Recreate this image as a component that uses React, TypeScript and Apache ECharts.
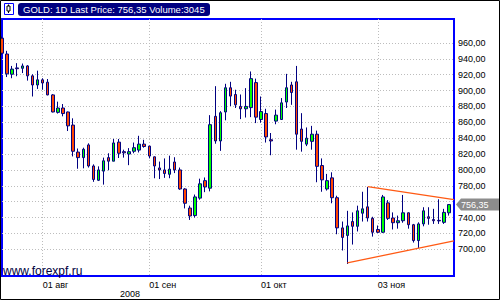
import React, { useEffect, useRef } from 'react';
import * as echarts from 'echarts';

// ---- data ----
const opens = [966, 946, 920.5, 928.5, 928, 931, 918.5, 907, 913.5, 910.5, 894.5, 872.5, 878, 873, 856.5, 822.5, 815.5, 831.5, 805, 787,
  798.5, 815.5, 811, 835, 823, 820, 823.5, 825, 832.5, 830, 816.5, 802.5, 800, 794.5, 810, 800, 776, 752, 742.5, 764.5,
  786.5, 777, 867.5, 836.5, 873, 903.5, 895, 880, 877, 878.5, 910, 863.5, 871, 838, 861.5, 863.5, 885.5, 907, 911, 851.5,
  832.5, 836, 845, 805.5, 776, 790, 765, 727, 717.5, 735, 729, 745.5, 753.5, 739, 725, 721.5, 758.5, 739.5, 733.5, 736,
  746, 731, 711, 732, 741, 737.5, 736.5, 734, 746];
const closes = [947, 921, 927, 927.5, 931, 918.5, 907, 913.5, 909.5, 894.5, 873, 878, 871, 855.5, 823.5, 815.5, 826, 805, 788, 800,
  811.5, 811, 834, 821, 821.5, 823, 828, 832.5, 829.5, 817.5, 805, 800, 795.5, 801, 800, 776, 758, 742, 766, 782.5,
  778.5, 857, 836.5, 872, 903.5, 893, 882, 877, 880, 915, 866.5, 873.5, 841.5, 836.5, 869, 884.5, 903.5, 897.5, 845, 836,
  840, 845, 804.5, 787.5, 786.5, 765, 727, 715, 729.5, 729, 748.5, 751, 739.5, 721.5, 721.5, 766, 739, 733.5, 736, 746,
  731, 711, 732, 748.5, 739, 736, 735.8, 746.5, 756.35];
const highs = [968, 950, 931, 934.5, 934, 932, 920.5, 925, 915.5, 914.5, 895.5, 886, 883, 873.5, 865, 827, 828, 833.5, 807, 804.5,
  815.5, 821, 839, 839, 825.5, 827.5, 834.5, 843, 838, 830.5, 817, 810.5, 814.5, 818, 816, 803, 777, 755, 769, 789,
  790.5, 869, 905.5, 874, 908.5, 911, 901, 895, 903, 924, 915, 892.5, 877, 846.5, 876, 890.5, 921, 911, 931, 871.5,
  853.5, 855.5, 849.5, 814.5, 795, 797, 767.5, 735, 748.5, 746.5, 755, 772.5, 778.5, 741, 730, 768.5, 762, 746.5, 742.5, 768.5,
  746.5, 732, 734, 753, 753, 751, 763, 751, 757];
const lows = [945, 917, 915.5, 918, 922, 912.5, 892.5, 902, 901, 894, 872.5, 871, 867.5, 849, 817, 801.5, 802, 803, 785, 786,
  781.5, 799.5, 811, 815, 815.5, 806, 821, 822, 828, 814.5, 789.5, 788.5, 790, 789.5, 796, 775, 751.5, 737, 740, 762.5,
  772, 773, 833, 824, 862.5, 880.5, 878, 864, 866, 866.5, 859, 859.5, 834.5, 818.5, 857.5, 863, 878, 882, 825.5, 823,
  830, 825.5, 784.5, 772.5, 774, 758, 719, 698.5, 681.5, 706, 722.5, 735, 735, 716, 720.5, 720.5, 737, 725, 726, 733.5,
  726, 708.5, 701.5, 729, 731, 732, 732, 732, 742.5];

const lastPrice = 756.35;
const volume = 3045;
const monthTickDates = ['2008-08-01', '2008-09-01', '2008-10-01', '2008-11-03'];
const monthTickLabels = ['01 авг', '01 сен', '01 окт', '03 ноя'];
const yearLabel = '2008';
const triangleUpper: [string, number][] = [['2008-10-30', 779], ['2008-11-24', 762.5]];
const triangleLower: [string, number][] = [['2008-10-24', 683], ['2008-11-24', 710.7]];

// trading days (weekdays) from 22 Jul 2008; the last slot is empty
function tradingDays(start: string, count: number): string[] {
  const out: string[] = [];
  const d = new Date(start + 'T00:00:00Z');
  while (out.length < count) {
    const wd = d.getUTCDay();
    if (wd !== 0 && wd !== 6) out.push(d.toISOString().slice(0, 10));
    d.setUTCDate(d.getUTCDate() + 1);
  }
  return out;
}
const dates = tradingDays('2008-07-22', opens.length + 1);

const FONT = 'Liberation Sans, Arial, sans-serif';

export default function App() {
  const ref = useRef<HTMLDivElement>(null);
  useEffect(() => {
    if (!ref.current) return;
    const chart = echarts.init(ref.current, null, { renderer: 'svg' });
    const candles = opens.map((o, i) => [o, closes[i], lows[i], highs[i]]);
    const tickIdx = new Set(monthTickDates.map((d) => dates.indexOf(d)));
    const fmtPrice = (v: number) => v.toFixed(2).replace('.', ',');

    chart.setOption({
      animation: false,
      backgroundColor: '#ffffff',
      grid: [
        { left: 2, top: 19, width: 452, height: 257, show: true, borderColor: '#0000ff', borderWidth: 2, backgroundColor: 'transparent' },
        { left: 2, top: 42.9, width: 452, height: 206.4, show: false },
      ],
      xAxis: [
        {
          type: 'category', gridIndex: 0, data: dates, boundaryGap: false,
          axisLine: { show: false }, axisTick: { show: false },
          axisLabel: {
            interval: (idx: number) => tickIdx.has(idx),
            formatter: (v: string) => monthTickLabels[monthTickDates.indexOf(v)] ?? '',
            align: 'left', margin: 4, color: '#000', fontFamily: FONT, fontSize: 9,
          },
          splitLine: { show: true, interval: (idx: number) => tickIdx.has(idx), lineStyle: { color: '#bdbdbd', type: [1, 2], width: 1 } },
        },
        { type: 'value', gridIndex: 1, min: 0, max: 1, show: false },
      ],
      yAxis: [
        { type: 'value', gridIndex: 0, min: 666.4, max: 990.1, show: false, splitLine: { show: false } },
        {
          type: 'value', gridIndex: 1, min: 700, max: 960, interval: 20, position: 'right',
          axisLine: { show: false }, axisTick: { show: false },
          // the last-price marker covers the tick label next to it
          axisLabel: { formatter: (v: number) => (Math.abs(v - lastPrice) < 10 ? '' : fmtPrice(v)), margin: 4, color: '#000', fontFamily: FONT, fontSize: 9 },
          splitLine: { show: true, lineStyle: { color: '#bdbdbd', type: [1, 2], width: 1 } },
        },
      ],
      series: [
        {
          type: 'candlestick', xAxisIndex: 0, yAxisIndex: 0, data: candles, barWidth: 3, clip: true,
          itemStyle: { color: '#00ff00', color0: '#ff4500', borderColor: '#000080', borderColor0: '#000080', borderColorDoji: '#000080', borderWidth: 1 },
          markLine: {
            silent: true, symbol: ['none', 'none'], label: { show: false },
            lineStyle: { color: '#ff5a14', width: 1.3, type: 'solid' },
            emphasis: { disabled: true },
            data: [
              [{ coord: triangleUpper[0] }, { coord: triangleUpper[1] }],
              [{ coord: triangleLower[0] }, { coord: triangleLower[1] }],
            ],
          },
        },
      ],
      graphic: [
        { id: 'frame', type: 'rect', shape: { x: 0.5, y: 0.5, width: 499, height: 299 }, style: { fill: 'none', stroke: '#000', lineWidth: 1 }, z: 100 },
        { id: 'icon', type: 'rect', shape: { x: 4.5, y: 3.5, width: 9, height: 11 }, style: { fill: '#fff', stroke: '#0000ff', lineWidth: 1 }, z: 100 },
        { id: 'icon2', type: 'rect', shape: { x: 7, y: 6, width: 3, height: 5 }, style: { fill: '#fff', stroke: '#000', lineWidth: 1 }, z: 101 },
        { id: 'icon3', type: 'line', shape: { x1: 8.5, y1: 4.5, x2: 8.5, y2: 13 }, style: { stroke: '#000', lineWidth: 1 }, z: 100 },
        { id: 'hdrbg', type: 'rect', shape: { x: 18, y: 3, width: 192, height: 13, r: 3 }, style: { fill: '#000080' }, z: 100 },
        {
          id: 'hdrtxt', type: 'text', x: 23, y: 9.8, z: 101,
          style: { text: `GOLD: 1D Last Price: ${fmtPrice(lastPrice)} Volume:${volume}`, fill: '#fff', font: `9.5px ${FONT}`, textVerticalAlign: 'middle' },
        },
        { id: 'site', type: 'text', x: 3, y: 270.5, z: 100, style: { text: 'www.forexpf.ru', fill: '#000040', font: `12px ${FONT}`, textVerticalAlign: 'middle' } },
        { id: 'year', type: 'text', x: 120, y: 294, z: 100, style: { text: yearLabel, fill: '#000', font: `9px ${FONT}`, textVerticalAlign: 'middle' } },
      ],
    });

    const py = chart.convertToPixel({ yAxisIndex: 0 }, lastPrice) as number;
    chart.setOption({
      graphic: [
        {
          id: 'pmark', type: 'polygon', z: 100,
          shape: { points: [[456, py], [461, py - 6], [499, py - 6], [499, py + 6], [461, py + 6]] },
          style: { fill: '#8c8c8c' },
        },
        { id: 'ptxt', type: 'text', x: 461, y: py + 0.5, z: 101, style: { text: fmtPrice(lastPrice), fill: '#fff', font: `9px ${FONT}`, textVerticalAlign: 'middle' } },
      ],
    });
    return () => chart.dispose();
  }, []);
  return <div ref={ref} style={{ position: 'fixed', left: 0, top: 0, width: 500, height: 300 }} />;
}
